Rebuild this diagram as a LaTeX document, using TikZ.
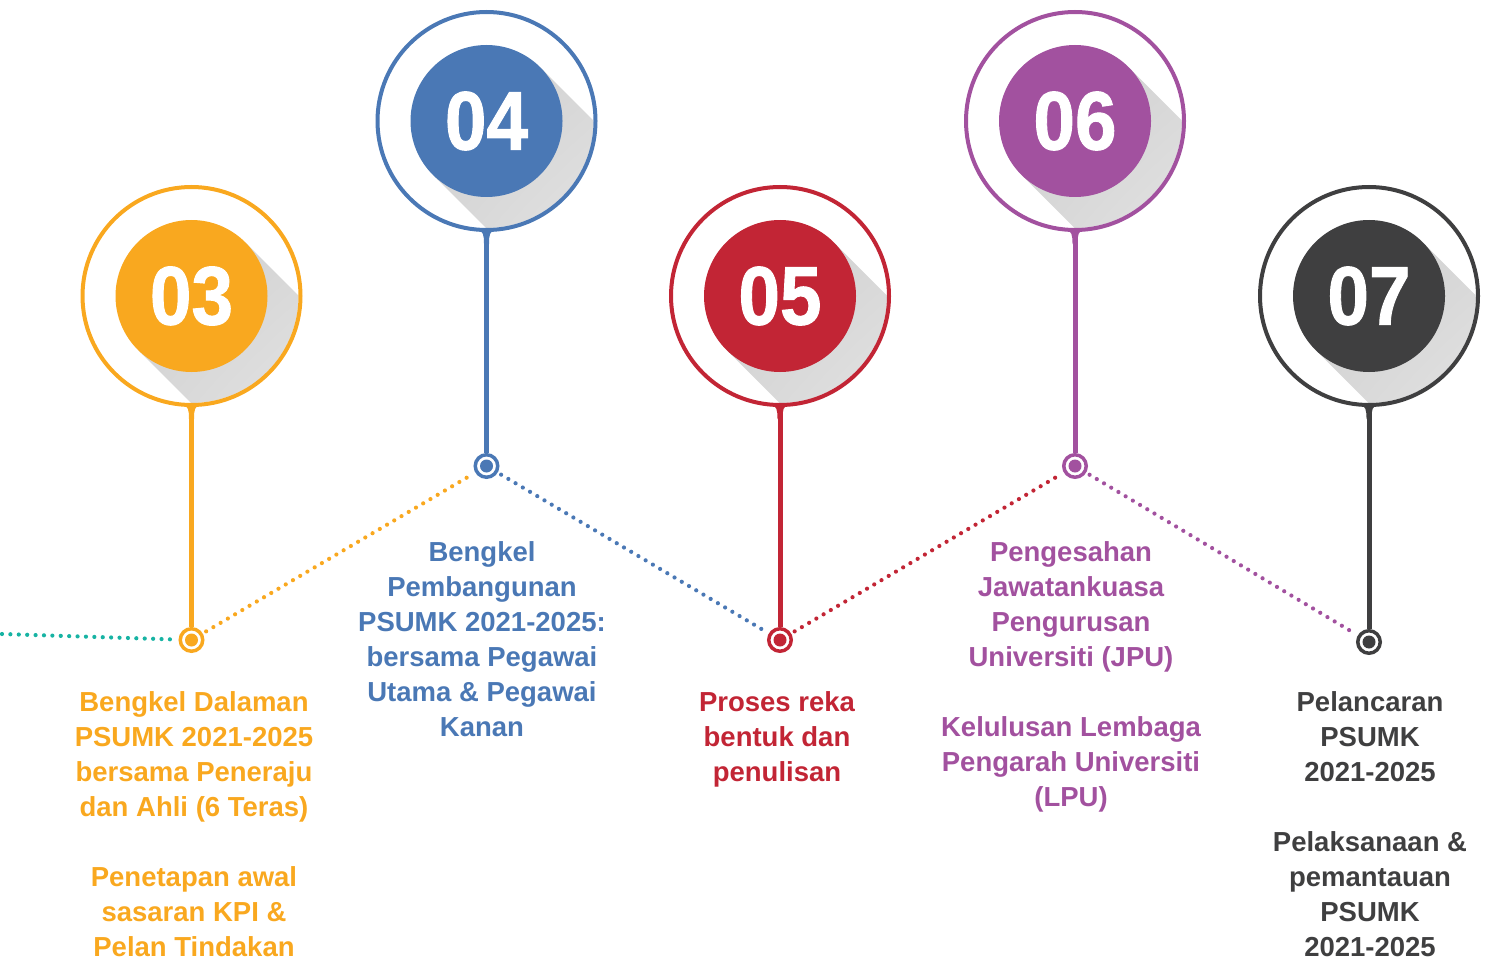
\documentclass[tikz,border=0pt]{standalone}
\usepackage{fontspec}
\setmainfont{Liberation Sans}
\newfontfamily\numfont[FakeBold=1.2]{Liberation Sans}
\usetikzlibrary{calc,shadings}
\definecolor{cOr}{HTML}{F9A81F}
\definecolor{cBl}{HTML}{4A78B5}
\definecolor{cRd}{HTML}{C22535}
\definecolor{cPu}{HTML}{A2519F}
\definecolor{cDk}{HTML}{3F3F40}
\definecolor{cTl}{HTML}{17B3A3}
\definecolor{shA}{HTML}{CECECE}
\definecolor{shB}{HTML}{F0F0F0}
\begin{document}
\begin{tikzpicture}[x=1pt,y=-1pt,
 ring/.style={circle, draw=#1, line width=4pt, minimum size=218pt, inner sep=0pt},
 disc/.style={circle, fill=#1, minimum size=152pt, inner sep=0pt, text=white, font=\fontsize{83}{83}\numfont\bfseries},
 pinring/.style={circle, draw=#1, line width=3.5pt, minimum size=22.5pt, inner sep=0pt, fill=white},
 stem/.style={draw=#1, line width=5pt},
 dots/.style={draw=#1, line width=4.2pt, line cap=round, dash pattern=on 0pt off 8.4pt, shorten <=4pt, shorten >=4pt},
 lbl/.style={text=#1, align=center, anchor=north, inner sep=0pt, font=\fontsize{27.5}{35}\selectfont\bfseries}
]
\useasboundingbox (0,0) rectangle (1488,960);
\foreach \n/\cx/\cy/\dy/\c/\num in {3/191.5/296/640/cOr/03, 4/486.5/121/466/cBl/04, 5/780/296/640/cRd/05, 6/1075/121/466/cPu/06, 7/1369/296/642/cDk/07} {
  \begin{scope}
    \clip (\cx,\cy) circle (107);
    \shade[upper left=shA, lower right=shB, upper right=shA!60!shB, lower left=shA!60!shB]
      (\cx+53.74,\cy-53.74) -- ++(150,150) -- ++(-107.5,107.5) -- (\cx-53.74,\cy+53.74) -- cycle;
  \end{scope}
  \node[ring=\c] (r\n) at (\cx,\cy) {};
  \node[disc=\c] (n\n) at (\cx,\cy) {\scalebox{0.9}[1]{\num}};
  \node[pinring=\c] (d\n) at (\cx,\dy) {};
  \fill[\c] (d\n.center) circle (6.5);
  \draw[stem=\c] (r\n.south) -- (d\n.north);
  \fill[\c] (\cx-10,\cy+108) .. controls (\cx-3,\cy+110) and (\cx-2.5,\cy+114) .. (\cx-2.5,\cy+123)
     -- (\cx+2.5,\cy+123) .. controls (\cx+2.5,\cy+114) and (\cx+3,\cy+110) .. (\cx+10,\cy+108) -- cycle;
}
\coordinate (tl) at (2,634);
\draw[dots=cTl, shorten <=0pt] (tl) -- (d3);
\draw[dots=cOr] (d3) -- (d4);
\draw[dots=cBl] (d4) -- (d5);
\draw[dots=cRd] (d5) -- (d6);
\draw[dots=cPu] (d6) -- (d7);

\node[lbl=cOr] (t3) at (194,691) {Bengkel Dalaman\\PSUMK 2021-2025\\bersama Peneraju\\dan Ahli (6 Teras)\\[35pt]Penetapan awal\\sasaran KPI \&\\Pelan Tindakan};
\node[lbl=cBl] (t4) at (482,541) {Bengkel\\Pembangunan\\PSUMK 2021-2025:\\bersama Pegawai\\Utama \& Pegawai\\Kanan};
\node[lbl=cRd] (t5) at (777,691) {Proses reka\\bentuk dan\\penulisan};
\node[lbl=cPu] (t6) at (1071,541) {Pengesahan\\Jawatankuasa\\Pengurusan\\Universiti (JPU)\\[35pt]Kelulusan Lembaga\\Pengarah Universiti\\(LPU)};
\node[lbl=cDk] (t7) at (1370,691) {Pelancaran\\PSUMK\\2021-2025\\[35pt]Pelaksanaan \&\\pemantauan\\PSUMK\\2021-2025};
\end{tikzpicture}
\end{document}
